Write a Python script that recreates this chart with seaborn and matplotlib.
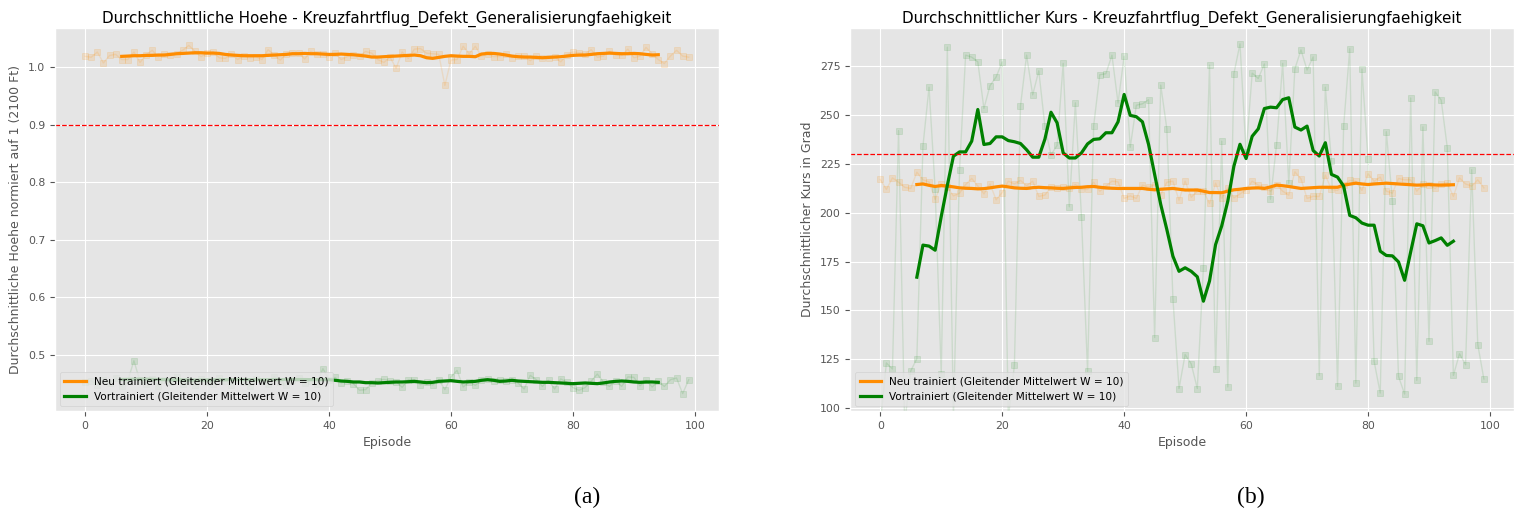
import numpy as np
import pandas as pd
import matplotlib
matplotlib.use("Agg")
import matplotlib.pyplot as plt
import seaborn as sns

# ---------------- data ----------------
episodes = list(range(100))
ma_episodes = list(range(6, 95))

# (a) average altitude, normalised to 1 (2100 ft)
hoehe_neu_raw = [
    1.0185, 1.017, 1.026, 1.007, 1.020, 1.022, 1.013, 1.013, 1.026, 1.008,
    1.021, 1.029, 1.018, 1.023, 1.020, 1.023, 1.029, 1.0375, 1.027, 1.018,
    1.0235, 1.026, 1.016, 1.015, 1.023, 1.013, 1.019, 1.016, 1.018, 1.013,
    1.030, 1.021, 1.012, 1.023, 1.024, 1.025, 1.014, 1.027, 1.023, 1.022,
    1.018, 1.024, 1.013, 1.018, 1.021, 1.019, 1.027, 1.024, 1.013, 1.008,
    1.017, 0.998, 1.026, 1.015, 1.031, 1.032, 1.024, 1.023, 1.022, 0.968,
    1.012, 1.013, 1.036, 1.023, 1.036, 1.019, 1.022, 1.018, 1.018, 1.022,
    1.016, 1.019, 1.019, 1.011, 1.019, 1.016, 1.015, 1.018, 1.009, 1.021,
    1.026, 1.025, 1.023, 1.030, 1.017, 1.019, 1.027, 1.021, 1.020, 1.031,
    1.016, 1.019, 1.034, 1.023, 1.013, 1.006, 1.019, 1.029, 1.019, 1.017,
]
hoehe_vor_raw = [
    0.452, 0.455, 0.448, 0.457, 0.451, 0.460, 0.445, 0.455, 0.4896, 0.454,
    0.450, 0.458, 0.446, 0.456, 0.452, 0.461, 0.449, 0.455, 0.447, 0.458,
    0.453, 0.450, 0.460, 0.455, 0.448, 0.457, 0.452, 0.446, 0.458, 0.454,
    0.450, 0.462, 0.453, 0.448, 0.456, 0.459, 0.451, 0.455, 0.450, 0.4758,
    0.457, 0.4606, 0.451, 0.455, 0.4498, 0.4384, 0.4394, 0.451, 0.455, 0.4572,
    0.4547, 0.4535, 0.4434, 0.4567, 0.4556, 0.448, 0.452, 0.4475, 0.4567, 0.4394,
    0.4614, 0.4729, 0.444, 0.4527, 0.447, 0.4556, 0.458, 0.454, 0.4567, 0.454,
    0.4567, 0.451, 0.4405, 0.4642, 0.4567, 0.445, 0.4556, 0.4405, 0.458, 0.4527,
    0.443, 0.4383, 0.443, 0.454, 0.4665, 0.4527, 0.445, 0.455, 0.445, 0.4614,
    0.4608, 0.446, 0.4556, 0.444, 0.454, 0.445, 0.4567, 0.4596, 0.4325, 0.4567,
]
hoehe_neu_ma = [
    1.0185, 1.0190, 1.0196, 1.0196, 1.0202, 1.0202, 1.0208, 1.0208, 1.0219, 1.0231,
    1.0236, 1.0242, 1.0248, 1.0248, 1.0242, 1.0242, 1.0236, 1.0219, 1.0208, 1.0202,
    1.0196, 1.0196, 1.0196, 1.0196, 1.0202, 1.0208, 1.0213, 1.0219, 1.0231, 1.0231,
    1.0236, 1.0231, 1.0231, 1.0225, 1.0219, 1.0219, 1.0225, 1.0219, 1.0213, 1.0202,
    1.0190, 1.0173, 1.0173, 1.0179, 1.0185, 1.0190, 1.0196, 1.0202, 1.0208, 1.0196,
    1.0161, 1.0150, 1.0167, 1.0185, 1.0196, 1.0190, 1.0185, 1.0185, 1.0179, 1.0225,
    1.0236, 1.0236, 1.0225, 1.0208, 1.0190, 1.0179, 1.0173, 1.0173, 1.0167, 1.0161,
    1.0167, 1.0173, 1.0179, 1.0190, 1.0202, 1.0208, 1.0208, 1.0219, 1.0231, 1.0236,
    1.0242, 1.0236, 1.0231, 1.0231, 1.0236, 1.0231, 1.0219, 1.0208, 1.0213,
]
hoehe_vor_ma = [
    0.4570, 0.4572, 0.4575, 0.4578, 0.4576, 0.4572, 0.4570, 0.4568, 0.4566, 0.4565,
    0.4563, 0.4562, 0.4560, 0.4561, 0.4562, 0.4563, 0.4565, 0.4566, 0.4567, 0.4568,
    0.4568, 0.4567, 0.4566, 0.4565, 0.4566, 0.4567, 0.4568, 0.4569, 0.4570, 0.4570,
    0.4569, 0.4568, 0.4568, 0.4567,
    0.4567, 0.4556, 0.4544, 0.4538, 0.4527, 0.4527, 0.4515, 0.4515, 0.4510, 0.4515,
    0.4521, 0.4527, 0.4527, 0.4532, 0.4538, 0.4527, 0.4515, 0.4521, 0.4538, 0.4544,
    0.4550, 0.4538, 0.4527, 0.4532, 0.4538, 0.4556, 0.4567, 0.4556, 0.4538, 0.4544,
    0.4556, 0.4544, 0.4538, 0.4532, 0.4527, 0.4521, 0.4521, 0.4515, 0.4510, 0.4504,
    0.4498, 0.4504, 0.4510, 0.4504, 0.4498, 0.4510, 0.4527, 0.4538, 0.4544, 0.4538,
    0.4527, 0.4521, 0.4527, 0.4527, 0.4521,
]

# (b) average heading in degrees
kurs_neu_raw = [
    217.0, 211.9, 217.8, 215.6, 213.0, 212.4, 220.7, 216.8, 215.8, 206.8,
    214.7, 213.0, 208.6, 210.0, 214.4, 217.5, 213.6, 209.6, 214.7, 206.6,
    210.3, 216.1, 214.7, 216.5, 213.8, 216.1, 208.3, 209.0, 213.0, 212.4,
    213.0, 212.4, 214.4, 211.9, 211.9, 215.6, 211.0, 213.6, 216.1, 215.8,
    207.3, 208.6, 207.3, 214.1, 213.0, 214.4, 209.3, 215.6, 216.1, 206.4,
    216.1, 207.9, 211.0, 211.0, 204.7, 215.1, 207.3, 212.7, 207.6, 209.6,
    211.7, 216.1, 214.1, 213.0, 211.0, 214.4, 211.0, 209.0, 220.9, 217.3,
    207.3, 208.4, 208.3, 219.2, 211.9, 211.4, 214.4, 216.5, 216.1, 211.4,
    219.9, 216.1, 218.2, 211.0, 210.0, 217.5, 216.8, 216.8, 211.0, 214.7,
    214.1, 212.4, 214.7, 215.3, 208.3, 217.8, 214.7, 213.6, 216.8, 212.7,
]
kurs_vor_raw = [
    92.0, 123.1, 120.0, 242.0, 92.0, 119.0, 125.3, 234.0, 264.2, 212.0,
    117.5, 284.7, 95.0, 222.0, 280.6, 279.6, 277.2, 253.3, 265.0, 269.4,
    277.2, 95.0, 121.8, 254.7, 280.6, 260.3, 272.6, 244.3, 229.6, 234.4,
    276.4, 203.0, 256.2, 198.0, 118.8, 244.4, 270.6, 271.1, 280.6, 256.1,
    280.1, 233.5, 255.0, 255.7, 257.8, 136.1, 265.3, 243.0, 156.0, 110.0,
    127.4, 122.6, 110.0, 171.7, 275.5, 119.9, 236.6, 110.8, 271.1, 286.4,
    231.0, 271.4, 268.7, 276.1, 206.9, 234.8, 276.4, 215.0, 273.6, 283.3,
    273.0, 279.7, 116.6, 264.2, 226.4, 111.2, 244.2, 283.9, 112.8, 273.5,
    227.6, 123.9, 107.7, 241.4, 206.2, 116.2, 107.2, 258.7, 114.2, 243.9,
    134.2, 261.8, 257.6, 233.3, 116.7, 127.8, 122.2, 222.0, 132.5, 114.9,
]
kurs_neu_ma = [
    214.4, 214.7, 214.0, 213.4, 213.9, 213.6, 213.2, 212.7, 212.5, 212.4,
    212.2, 212.3, 212.7, 213.2, 213.6, 213.2, 212.7, 212.5, 212.4, 212.8,
    213.0, 212.8, 212.7, 212.5, 212.4, 212.7, 212.9, 213.0, 213.3, 213.4,
    213.0, 212.7, 212.5, 212.4, 212.4, 212.4, 212.4, 212.4, 212.0, 211.7,
    212.0, 212.2, 212.4, 212.0, 211.6, 211.6, 211.6, 211.0, 210.3, 210.3,
    210.2, 211.0, 211.7, 212.0, 212.4, 212.6, 212.7, 212.4, 213.2, 214.1,
    213.8, 213.4, 212.9, 212.4, 212.6, 212.8, 213.0, 213.0, 213.0, 213.0,
    214.1, 214.6, 215.1, 214.7, 214.4, 214.7, 214.9, 215.1, 214.9, 214.7,
    214.5, 214.3, 214.1, 214.2, 214.4, 214.2, 214.1, 214.2, 214.3,
]
kurs_vor_ma = [
    167.0, 183.4, 182.9, 180.8, 198.0, 214.0, 228.9, 231.1, 231.1, 236.6,
    252.8, 234.9, 235.4, 238.8, 238.8, 236.9, 236.3, 235.4, 232.2, 228.4,
    228.4, 237.6, 251.4, 246.0, 230.6, 228.0, 228.0, 230.6, 235.2, 237.5,
    237.8, 240.9, 240.9, 246.5, 260.5, 249.8, 249.1, 246.5, 235.0, 219.6,
    204.2, 191.4, 177.7, 170.0, 171.8, 170.0, 167.2, 154.7, 165.0, 183.7,
    193.2, 205.9, 223.8, 235.0, 227.7, 239.1, 242.9, 253.3, 254.0, 253.7,
    257.9, 258.8, 243.8, 242.3, 244.3, 231.8, 229.0, 235.8, 219.6, 218.2,
    213.6, 198.6, 197.4, 194.7, 193.6, 193.6, 180.3, 178.1, 177.9, 174.8,
    165.4, 180.0, 194.3, 193.3, 184.5, 185.7, 187.1, 183.3, 185.4,
]

titles = [
    "Durchschnittliche Hoehe - Kreuzfahrtflug_Defekt_Generalisierungfaehigkeit",
    "Durchschnittlicher Kurs - Kreuzfahrtflug_Defekt_Generalisierungfaehigkeit",
]
ylabels = ["Durchschnittliche Hoehe normiert auf 1 (2100 Ft)",
           "Durchschnittlicher Kurs in Grad"]
legend_labels = ["Neu trainiert (Gleitender Mittelwert W = 10)",
                 "Vortrainiert (Gleitender Mittelwert W = 10)"]
thresholds = [0.9, 230]
captions = ["(a)", "(b)"]

# ---------------- style ----------------
plt.style.use("ggplot")
plt.rcParams["font.family"] = ["DejaVu Sans"]

C_NEU = "darkorange"
C_VOR = "green"

fig = plt.figure(figsize=(15.18, 5.15), dpi=100)
ax_a = fig.add_axes([0.0362, 0.2019, 0.4374, 0.7437])
ax_b = fig.add_axes([0.5600, 0.2019, 0.4374, 0.7437])

panels = [
    (ax_a, hoehe_neu_raw, hoehe_vor_raw, hoehe_neu_ma, hoehe_vor_ma),
    (ax_b, kurs_neu_raw, kurs_vor_raw, kurs_neu_ma, kurs_vor_ma),
]

for i, (ax, neu_raw, vor_raw, neu_ma, vor_ma) in enumerate(panels):
    for raw, col, a in ((neu_raw, C_NEU, 0.14), (vor_raw, C_VOR, 0.11)):
        sns.lineplot(x=episodes, y=raw, ax=ax, color=col, alpha=a,
                     linewidth=1.0, marker="s", markersize=3.8,
                     markeredgewidth=0.6, markeredgecolor=col,
                     legend=False, estimator=None, sort=False)
    sns.lineplot(x=ma_episodes, y=neu_ma, ax=ax, color=C_NEU, linewidth=2.3,
                 label=legend_labels[0], estimator=None, sort=False)
    sns.lineplot(x=ma_episodes, y=vor_ma, ax=ax, color=C_VOR, linewidth=2.3,
                 label=legend_labels[1], estimator=None, sort=False)
    ax.axhline(thresholds[i], color="red", linestyle="--", linewidth=0.9)

    ax.set_title(titles[i], fontsize=10.9, color="black", pad=4)
    ax.set_xlabel("Episode", fontsize=9, color="#555555")
    ax.set_ylabel(ylabels[i], fontsize=9, color="#555555")
    ax.tick_params(axis="both", labelsize=7.8, colors="#555555")
    ax.set_xticks([0, 20, 40, 60, 80, 100])
    ax.legend(loc="lower left", fontsize=7.6, framealpha=0.8)

ax_a.set_yticks([0.5, 0.6, 0.7, 0.8, 0.9, 1.0])
ax_b.set_ylim(98.5, 294.5)
ax_b.set_yticks([100, 125, 150, 175, 200, 225, 250, 275])

fig.text(0.3867, 0.035, captions[0], ha="center", va="center",
         fontsize=17, family="Liberation Serif")
fig.text(0.8241, 0.035, captions[1], ha="center", va="center",
         fontsize=17, family="Liberation Serif")

fig.savefig("out.png", dpi=100)
